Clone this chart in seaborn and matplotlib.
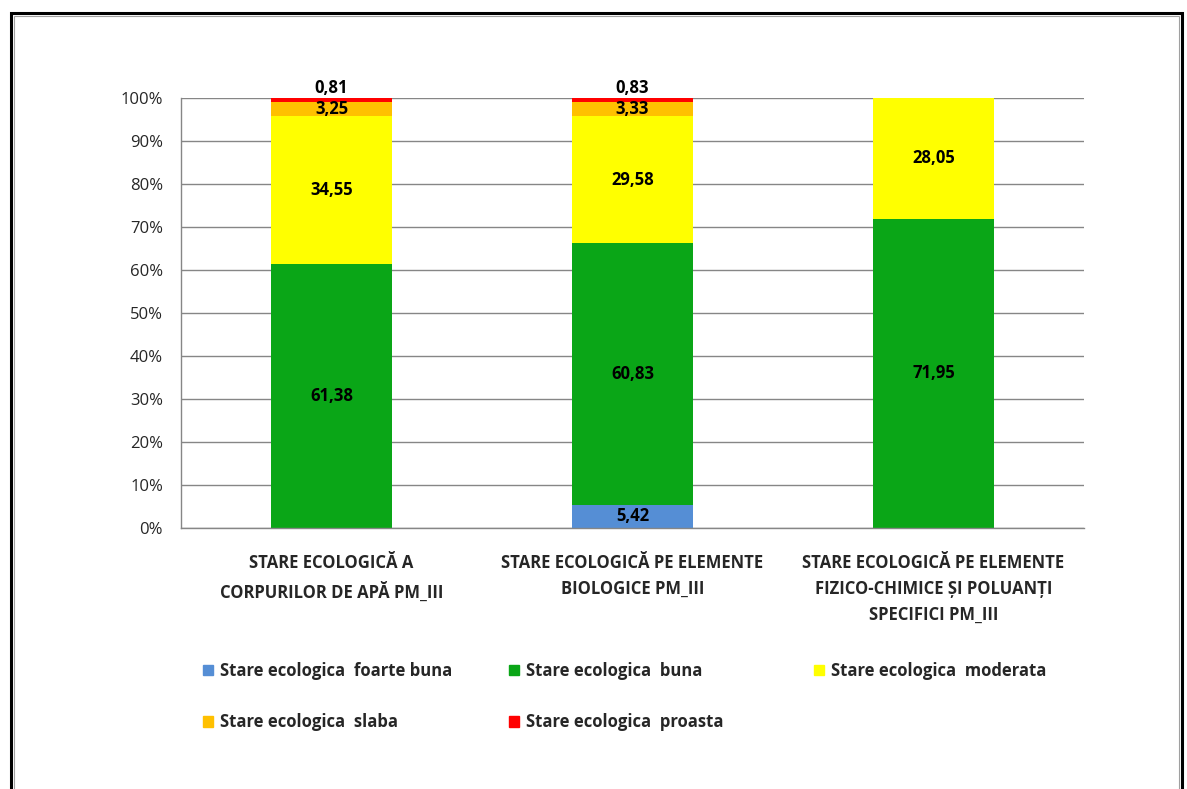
import pandas as pd
import matplotlib.pyplot as plt
import matplotlib.patches as mpatches
from matplotlib.ticker import FixedLocator
import seaborn as sns

# === Date ===
categorii = ['STARE ECOLOGICĂ A\nCORPURILOR DE APĂ PM_III',
             'STARE ECOLOGICĂ PE ELEMENTE\nBIOLOGICE PM_III',
             'STARE ECOLOGICĂ PE ELEMENTE\nFIZICO-CHIMICE ȘI POLUANȚI\nSPECIFICI PM_III']
serii = ['Stare ecologica  foarte buna', 'Stare ecologica  buna', 'Stare ecologica  moderata',
         'Stare ecologica  slaba', 'Stare ecologica  proasta']
foarte_buna = [0.0, 5.42, 0.0]
buna = [61.38, 60.83, 71.95]
moderata = [34.55, 29.58, 28.05]
slaba = [3.25, 3.33, 0.0]
proasta = [0.81, 0.83, 0.0]
culori = ['#558ED5', '#0AA617', '#FFFF00', '#FFC000', '#FF0000']

valori = [foarte_buna, buna, moderata, slaba, proasta]

sns.set_style('white')
plt.rcParams['font.family'] = ['Open Sans', 'DejaVu Sans']

fig = plt.figure(figsize = (11.87, 7.89), dpi = 100)
ax = fig.add_axes([181 / 1187, 1 - 528 / 789, 903 / 1187, 430 / 789])

# === Bare stivuite ===
baza = [0.0, 0.0, 0.0]
for nume, vals, culoare in zip(serii, valori, culori):
    df = pd.DataFrame({'cat': categorii, 'val': vals})
    sns.barplot(data = df, x = 'cat', y = 'val', bottom = baza, color = culoare,
                width = 0.405, saturation = 1, ax = ax, linewidth = 0, zorder = 3)
    for i, v in enumerate(vals):
        if v <= 0:
            continue
        eticheta = f'{v:.2f}'.replace('.', ',')
        if v < 1:
            y = baza[i] + v + 2.3
        else:
            y = baza[i] + v / 2
        ax.text(i, y, eticheta, ha = 'center', va = 'center', fontsize = 12,
                fontweight = 'bold', color = 'black', zorder = 5)
    baza = [b + v for b, v in zip(baza, vals)]

# === Axe ===
ax.set_xlim(-0.5, 2.5)
ax.set_ylim(0, 100)
ax.set_yticks(range(0, 101, 10))
ax.set_yticklabels([f'{t}%' for t in range(0, 101, 10)], fontsize = 12)
ax.set_xlabel('')
ax.set_ylabel('')
ax.set_xticks(range(3))
ax.set_xticklabels(categorii, fontsize = 12, fontweight = 'bold', linespacing = 1.55)
ax.xaxis.set_minor_locator(FixedLocator([-0.5, 0.5, 1.5, 2.5]))
ax.tick_params(axis = 'x', which = 'major', length = 0, pad = 19)
ax.tick_params(axis = 'x', which = 'minor', length = 5, color = '#868686', width = 1, direction = 'out')
ax.tick_params(axis = 'y', length = 4, color = '#868686', width = 1, direction = 'out', pad = 9)
ax.yaxis.grid(True, color = '#868686', linewidth = 1, zorder = 0)
ax.set_axisbelow(True)
for s in ['top', 'right']:
    ax.spines[s].set_visible(False)
for s in ['left', 'bottom']:
    ax.spines[s].set_color('#868686')
    ax.spines[s].set_linewidth(1)
    ax.spines[s].set_zorder(4)

# === Legenda (rand cu rand, in 3 coloane) ===
manere = [mpatches.Patch(color = c, label = n) for n, c in zip(serii, culori)]
coloane = [[0, 3], [1, 4], [2]]
pozitii_x = [203 / 1187, 509 / 1187, 814 / 1187]
for col, x0 in zip(coloane, pozitii_x):
    fig.legend(handles = [manere[k] for k in col], loc = 'upper left',
               bbox_to_anchor = (x0, 1 - 662 / 789), frameon = False,
               prop = {'size': 12, 'weight': 'bold'},
               handlelength = 0.6, handleheight = 0.6, handletextpad = 0.4,
               labelspacing = 2.0, borderaxespad = 0, borderpad = 0)

# === Chenar ===
fig.patches.append(mpatches.Rectangle((11 / 1187, -0.02), 1171 / 1187, 0.02 + 1 - 13 / 789,
                                      transform = fig.transFigure, fill = False,
                                      edgecolor = 'black', linewidth = 2.2))
fig.patches.append(mpatches.Rectangle((14 / 1187, -0.02), 1165 / 1187, 0.02 + 1 - 16 / 789,
                                      transform = fig.transFigure, fill = False,
                                      edgecolor = '#A0A0A0', linewidth = 0.8))

fig.savefig('out.png', dpi = 100, facecolor = 'white')
